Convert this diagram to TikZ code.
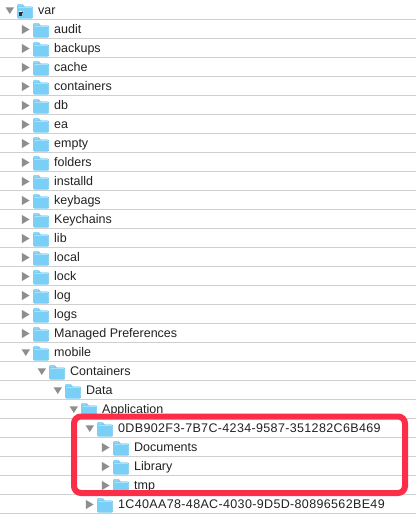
\documentclass[tikz,border=0pt]{standalone}
\usepackage{fontspec}
\setmainfont{Liberation Sans}
\newfontfamily\idfont[LetterSpace=2.8]{Liberation Sans}
\definecolor{rowline}{HTML}{CFCFCF}
\definecolor{tri}{HTML}{8E8E8E}
\definecolor{fbody}{HTML}{7ACFF7}
\definecolor{fedge}{HTML}{5DBDEB}
\definecolor{ftab}{HTML}{8FD6F7}
\definecolor{redbox}{HTML}{FC2D48}
\definecolor{ink}{HTML}{222222}
\tikzset{
  rowrule/.style={draw=rowline,line width=0.9pt},
  label/.style={anchor=base west,inner sep=0pt,text=ink,font=\fontsize{12.5}{14}\selectfont},
  trishape/.style={fill=tri,draw=none},
  hilite/.style={draw=redbox,line width=6pt,rounded corners=7pt,outer sep=0pt}
}
\newcommand{\folderat}[2]{%
  \begin{scope}[shift={(#1,#2)}]
    \fill[ftab,draw=fedge,line width=0.3pt] (0.6,-2) -- (0.6,-4.7) to[out=90,in=180] (1.4,-5.5) -- (5.6,-5.5) -- (7.4,-3.2) -- (7.4,-2) -- cycle;
    \fill[fbody,draw=fedge,line width=0.3pt,rounded corners=0.8pt] (0.6,-3) rectangle (15.7,8.5);
    \draw[white!35!fbody,line width=0.6pt] (1,-2.4) -- (15.3,-2.4);
  \end{scope}}
\newcommand{\closedtri}[2]{\fill[trishape] (#1-0.2,#2-3.9) -- (#1+7.6,#2+0.7) -- (#1-0.2,#2+5.3) -- cycle;}
\newcommand{\opentri}[2]{\fill[trishape] (#1-0.4,#2-2.5) -- (#1+8,#2-2.5) -- (#1+3.8,#2+4.2) -- cycle;}
\begin{document}
\begin{tikzpicture}[x=1pt,y=-1pt]
\useasboundingbox[fill=white] (0,0) rectangle (416,515);
% row rules
\foreach \k in {1,...,27}{
  \coordinate (ruleL\k) at (0,19*\k+0.3);
  \coordinate (ruleR\k) at (416,19*\k+0.3);
  \draw[rowrule] (ruleL\k) -- (ruleR\k);
}
% rows: index / level / open / label
\foreach \r/\lev/\op/\txt in {
  0/0/1/var,
  1/1/0/audit,
  2/1/0/backups,
  3/1/0/cache,
  4/1/0/containers,
  5/1/0/db,
  6/1/0/ea,
  7/1/0/empty,
  8/1/0/folders,
  9/1/0/installd,
  10/1/0/keybags,
  11/1/0/Keychains,
  12/1/0/lib,
  13/1/0/local,
  14/1/0/lock,
  15/1/0/log,
  16/1/0/logs,
  17/1/0/Managed Preferences,
  18/1/1/mobile,
  19/2/1/Containers,
  20/3/1/Data,
  21/4/1/Application,
  22/5/1/{\idfont 0DB902F3-7B7C-4234-9587-351282C6B469},
  23/6/0/Documents,
  24/6/0/Library,
  25/6/0/tmp,
  26/5/0/{\idfont 1C40AA78-48AC-4030-9D5D-80896562BE49}}{
  \pgfmathsetmacro{\fx}{17+16*\lev}
  \pgfmathsetmacro{\ry}{9.8+19*\r}
  \pgfmathsetmacro{\tx}{\fx-11}
  \ifnum\op=1 \opentri{\tx}{\ry}\else \closedtri{\tx}{\ry}\fi
  \folderat{\fx}{\ry}
  \pgfmathsetmacro{\lx}{\fx+21}
  \pgfmathsetmacro{\by}{\ry+4.8}
  \node[label] (row\r) at (\lx,\by) {\txt};
}
% alias badge on var
\draw[white,line width=0.5pt] (18.8,15.8) -- (18.8,11.2) -- (23.6,11.2);
\fill[black!80] (19.2,12) rectangle (21.8,15.5);
\draw[black!85,line width=0.8pt] (20.5,14) -- (23.2,11.6);
% highlight
\node[hilite,inner sep=0pt,minimum width=331pt,minimum height=76.5pt,anchor=north west] (box) at (74,416.5) {};
\end{tikzpicture}
\end{document}
